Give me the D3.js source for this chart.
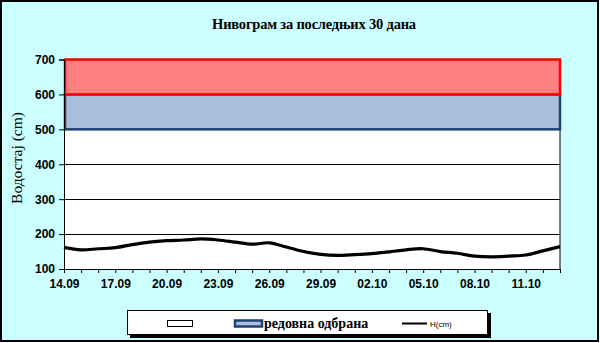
<!DOCTYPE html>
<html><head><meta charset="utf-8">
<script src="https://cdn.jsdelivr.net/npm/d3@7"></script>
<style>body{margin:0;background:#fff}svg{display:block}</style>
</head><body><svg id="c" width="600" height="343"></svg>
<script>
const days = ["14.09","15.09","16.09","17.09","18.09","19.09","20.09","21.09","22.09","23.09",
  "24.09","25.09","26.09","27.09","28.09","29.09","30.09","01.10","02.10","03.10",
  "04.10","05.10","06.10","07.10","08.10","09.10","10.10","11.10","12.10","13.10"];
const levels = [162,155,158,161,170,177,181,183,186,183,177,171,175,163,150,142,139,141,144,149,155,158,150,145,137,135,137,140,152,164];
const tickLabels = ["14.09","17.09","20.09","23.09","26.09","29.09","02.10","05.10","08.10","11.10"];
const yTicks = [100,200,300,400,500,600,700];
const bands = [
  {name:"", lo:100, hi:500, fill:"#FFFFFF", stroke:"#000000"},
  {name:"редовна одбрана", lo:500, hi:600, fill:"#A8BEDC", stroke:"#1F4173"},
  {name:"ванредна одбрана", lo:600, hi:700, fill:"#FF8080", stroke:"#FF0000"}
];
const title = "Нивограм за последњих 30 дана";
const yTitle = "Водостај (cm)";
const lineName = "H(cm)";

const svg = d3.select("#c");
svg.append("rect").attr("x",1).attr("y",1).attr("width",597).attr("height",340)
  .attr("fill","#CCFFFF").attr("stroke","#000").attr("stroke-width",2);

const L=64,R=560,T=59.5,B=269;
const x = d3.scaleLinear().domain([0,days.length-1]).range([L,R]);
const y = d3.scaleLinear().domain([100,700]).range([B,T]);

svg.append("text").attr("x",314).attr("y",29).attr("text-anchor","middle")
  .attr("font-family","Liberation Serif").attr("font-weight","bold").attr("font-size",14.5)
  .attr("letter-spacing","-0.2").text(title);

// plot area
svg.append("rect").attr("x",L).attr("y",T).attr("width",R-L).attr("height",B-T).attr("fill","#fff");
svg.append("line").attr("x1",R).attr("x2",R).attr("y1",y(500)).attr("y2",B).attr("stroke","#000").attr("stroke-width",1);
// gridlines
svg.append("g").selectAll("line").data(yTicks.filter(v=>v>100&&v<500)).join("line")
  .attr("x1",L).attr("x2",R).attr("y1",d=>Math.round(y(d))+0.5).attr("y2",d=>Math.round(y(d))+0.5)
  .attr("stroke","#000").attr("stroke-width",1);
// bands
const bb = bands.slice(1);
svg.append("g").selectAll("rect").data(bb).join("rect")
  .attr("x",L+1).attr("y",d=>y(d.hi)).attr("width",R-L-1).attr("height",d=>y(d.lo)-y(d.hi))
  .attr("fill",d=>d.fill).attr("stroke",d=>d.stroke).attr("stroke-width",2.5);

// line
const line = d3.line().x((d,i)=>x(i)).y(d=>y(d)).curve(d3.curveCatmullRom.alpha(0.5));
svg.append("path").attr("d",line(levels)).attr("fill","none").attr("stroke","#000").attr("stroke-width",3.2);

// axes
const ya = d3.axisLeft(y).tickValues(yTicks).tickSize(5).tickPadding(4).tickFormat(d3.format("d"));
const gy = svg.append("g").attr("transform",`translate(${L},0)`).call(ya);
gy.select(".domain").attr("stroke","#000");
gy.selectAll("text").attr("font-family","Liberation Sans").attr("font-weight","bold").attr("font-size",12).attr("fill","#000");

const xa = d3.axisBottom(x).tickValues(d3.range(days.length)).tickSize(4).tickFormat(i=>tickLabels.includes(days[i])?days[i]:"").tickPadding(6);
const gx = svg.append("g").attr("transform",`translate(0,${B})`).call(xa);
gx.select(".domain").attr("stroke","#000");
gx.selectAll("text").attr("font-family","Liberation Sans").attr("font-weight","bold").attr("font-size",12).attr("fill","#000");

svg.append("text").attr("transform","translate(22,158) rotate(-90)").attr("text-anchor","middle")
  .attr("font-family","Liberation Serif").attr("font-size",15.5).text(yTitle);

// legend
svg.append("rect").attr("x",130).attr("y",313).attr("width",361).attr("height",25).attr("fill","#000");
svg.append("rect").attr("x",127.5).attr("y",310.5).attr("width",360).attr("height",24).attr("fill","#fff").attr("stroke","#000");
svg.append("rect").attr("x",167.5).attr("y",320.5).attr("width",25).attr("height",6).attr("fill","#fff").attr("stroke","#000");
svg.append("rect").attr("x",235).attr("y",320.5).attr("width",27).attr("height",6).attr("fill",bands[1].fill).attr("stroke",bands[1].stroke).attr("stroke-width",2.5);
svg.append("text").attr("x",264).attr("y",328).attr("font-family","Liberation Serif").attr("font-weight","bold").attr("font-size",14).text(bands[1].name);
svg.append("line").attr("x1",402).attr("x2",427).attr("y1",323.5).attr("y2",323.5).attr("stroke","#000").attr("stroke-width",2);
svg.append("text").attr("x",430).attr("y",326.5).attr("font-family","Liberation Sans").attr("font-size",8).text(lineName);
</script></body></html>
